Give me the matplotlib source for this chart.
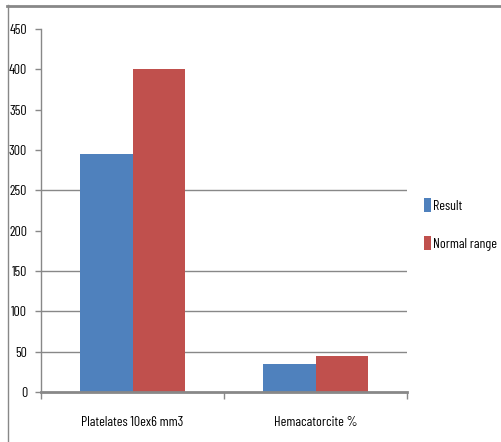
import matplotlib
matplotlib.use("Agg")
import matplotlib.pyplot as plt
import numpy as np

categories = ["Platelates 10ex6 mm3", "Hemacatorcite %"]
result = [295, 35]
normal_range = [400, 45]
y_ticks = [0, 50, 100, 150, 200, 250, 300, 350, 400, 450]
grid_levels = [50, 100, 150, 250]

plt.rcParams["font.family"] = ["Barlow Condensed", "DejaVu Sans"]
plt.rcParams["font.size"] = 10

blue = "#4F81BD"
red = "#C0504D"
grey = "#888888"

fig = plt.figure(figsize=(5.01, 4.42), dpi=100)
ax = fig.add_axes([41 / 501, 1 - 392 / 442, 366 / 501, 363 / 442])

x = np.arange(len(categories))
w = 0.285
for g in grid_levels:
    ax.axhline(g, color=grey, lw=1.0, zorder=0)
ax.bar(x - w / 2, result, w, color=blue, label="Result", zorder=2)
ax.bar(x + w / 2, normal_range, w, color=red, label="Normal range", zorder=2)

ax.set_xlim(-0.5, len(categories) - 0.5)
ax.set_ylim(0, 450)
ax.set_yticks(y_ticks)
ax.set_xticks(x)
ax.set_xticklabels(categories)
ax.set_xticks(np.arange(len(categories) + 1) - 0.5, minor=True)
ax.tick_params(axis="x", which="major", length=0, pad=17)
ax.tick_params(axis="x", which="minor", length=5, color=grey, width=1)
ax.tick_params(axis="y", length=4, color=grey, width=1, pad=6)

for s in ["top", "right"]:
    ax.spines[s].set_visible(False)
ax.spines["left"].set_color(grey)
ax.spines["left"].set_linewidth(1)
ax.spines["bottom"].set_color(grey)
ax.spines["bottom"].set_linewidth(2)

fig.legend(loc="upper left", bbox_to_anchor=(424 / 501, 1 - 198 / 442),
           frameon=False, handlelength=0.5, handleheight=1.15,
           handletextpad=0.15, labelspacing=1.7, borderpad=0,
           borderaxespad=0)

# outer chart frame (top and left edges)
fig.add_artist(plt.Line2D([7 / 501, 1], [1 - 5.5 / 442] * 2, color=grey, lw=2))
fig.add_artist(plt.Line2D([7.5 / 501] * 2, [0, 1 - 5 / 442], color=grey, lw=1))

fig.savefig("out.png", dpi=100)
